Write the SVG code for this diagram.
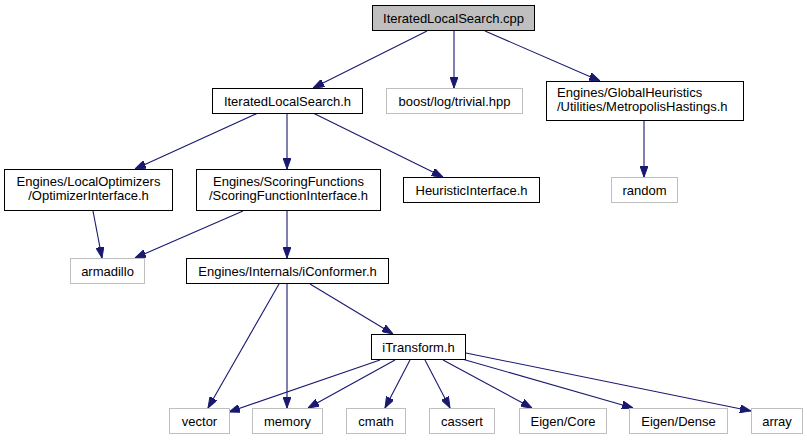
<svg xmlns="http://www.w3.org/2000/svg" width="807" height="440" viewBox="0 0 807 440">
<style>
  .n rect { fill: #ffffff; stroke: #000000; stroke-width: 1; }
  .g rect { fill: #ffffff; stroke: #bfbfbf; stroke-width: 1; }
  .root rect { fill: #bfbfbf; stroke: #000000; stroke-width: 1; }
  text { font-family: "Liberation Sans", Arial, Helvetica, sans-serif; font-size: 13px; fill: #000000; }
  .c { text-anchor: middle; }
  #edges line { stroke: #191970; stroke-width: 1.1; marker-end: url(#ah); }
</style>
<defs>
  <marker id="ah" viewBox="0 0 11 8" refX="11" refY="4" markerWidth="11" markerHeight="8" markerUnits="userSpaceOnUse" orient="auto">
    <path d="M0,0 L11,4 L0,8 z" fill="#191970" stroke="#191970" stroke-width="1"/>
  </marker>
</defs>
<rect width="807" height="440" fill="#ffffff"/>
<g id="edges">
  <line x1="427" y1="31" x2="313" y2="88"/>
  <line x1="454" y1="31" x2="454" y2="88"/>
  <line x1="485" y1="31" x2="600" y2="81"/>
  <line x1="644" y1="121" x2="644" y2="177"/>
  <line x1="258" y1="113" x2="135" y2="169"/>
  <line x1="287" y1="113" x2="287" y2="169"/>
  <line x1="313" y1="113" x2="443" y2="177"/>
  <line x1="93" y1="211" x2="102" y2="258"/>
  <line x1="243" y1="211" x2="135" y2="258"/>
  <line x1="287" y1="211" x2="287" y2="258"/>
  <line x1="279" y1="284" x2="208" y2="408"/>
  <line x1="287" y1="284" x2="287" y2="408"/>
  <line x1="310" y1="284" x2="393" y2="334"/>
  <line x1="380" y1="360" x2="229" y2="412"/>
  <line x1="395" y1="360" x2="308" y2="408"/>
  <line x1="410" y1="360" x2="385" y2="408"/>
  <line x1="425" y1="360" x2="450" y2="408"/>
  <line x1="443" y1="360" x2="532" y2="408"/>
  <line x1="462" y1="359" x2="633" y2="408"/>
  <line x1="466" y1="353" x2="751" y2="411"/>
</g>
<g id="n_root" class="root"><rect x="372.5" y="5.5" width="162" height="25"/><text class="c" x="453.5" y="23">IteratedLocalSearch.cpp</text></g>
<g id="n_ils_h" class="n"><rect x="212.5" y="88.5" width="150" height="25"/><text class="c" x="287.5" y="106">IteratedLocalSearch.h</text></g>
<g id="n_boost" class="g"><rect x="386.5" y="88.5" width="136" height="25"/><text class="c" x="454.5" y="106">boost/log/trivial.hpp</text></g>
<g id="n_metro" class="n"><rect x="546.5" y="81.5" width="197" height="39"/><text x="557" y="97">Engines/GlobalHeuristics</text><text x="557" y="111">/Utilities/MetropolisHastings.h</text></g>
<g id="n_random" class="g"><rect x="611.5" y="177.5" width="66" height="25"/><text class="c" x="644.5" y="195">random</text></g>
<g id="n_optim" class="n"><rect x="4.5" y="169.5" width="168" height="41"/><text class="c" x="88.5" y="186">Engines/LocalOptimizers</text><text class="c" x="88.5" y="200">/OptimizerInterface.h</text></g>
<g id="n_scoring" class="n"><rect x="196.5" y="169.5" width="184" height="41"/><text class="c" x="288.5" y="186">Engines/ScoringFunctions</text><text class="c" x="288.5" y="200">/ScoringFunctionInterface.h</text></g>
<g id="n_heur" class="n"><rect x="403.5" y="177.5" width="136" height="25"/><text class="c" x="471.5" y="195">HeuristicInterface.h</text></g>
<g id="n_armadillo" class="g"><rect x="70.5" y="258.5" width="74" height="25"/><text class="c" x="107.5" y="276">armadillo</text></g>
<g id="n_iconf" class="n"><rect x="186.5" y="258.5" width="202" height="25"/><text class="c" x="287.5" y="276">Engines/Internals/iConformer.h</text></g>
<g id="n_itrans" class="n"><rect x="371.5" y="334.5" width="94" height="25"/><text class="c" x="418.5" y="352">iTransform.h</text></g>
<g id="n_vector" class="g"><rect x="169.5" y="408.5" width="60" height="25"/><text class="c" x="199.5" y="426">vector</text></g>
<g id="n_memory" class="g"><rect x="252.5" y="408.5" width="70" height="25"/><text class="c" x="287.5" y="426">memory</text></g>
<g id="n_cmath" class="g"><rect x="346.5" y="408.5" width="59" height="25"/><text class="c" x="376" y="426">cmath</text></g>
<g id="n_cassert" class="g"><rect x="429.5" y="408.5" width="65" height="25"/><text class="c" x="462" y="426">cassert</text></g>
<g id="n_eigencore" class="g"><rect x="519.5" y="408.5" width="87" height="25"/><text class="c" x="563" y="426">Eigen/Core</text></g>
<g id="n_eigendense" class="g"><rect x="629.5" y="408.5" width="98" height="25"/><text class="c" x="678.5" y="426">Eigen/Dense</text></g>
<g id="n_array" class="g"><rect x="751.5" y="408.5" width="51" height="25"/><text class="c" x="777" y="426">array</text></g>
</svg>
